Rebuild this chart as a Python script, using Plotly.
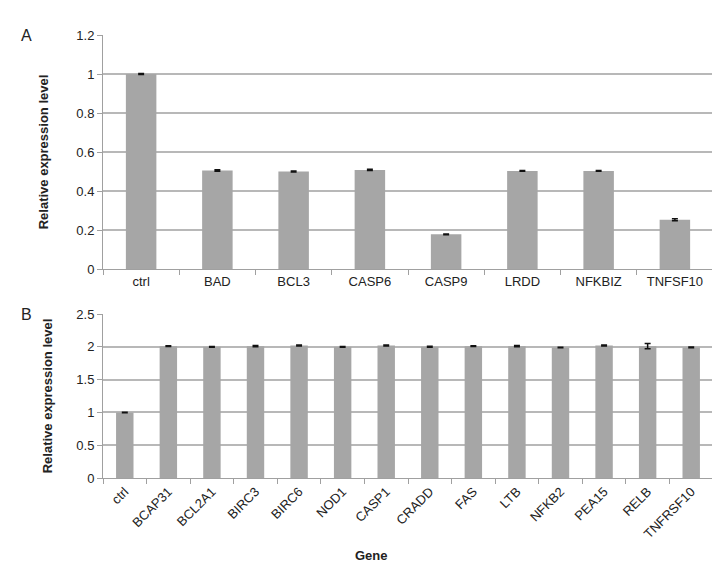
import plotly.graph_objects as go
from plotly.subplots import make_subplots

genes_a = ["ctrl", "BAD", "BCL3", "CASP6", "CASP9", "LRDD", "NFKBIZ", "TNFSF10"]
values_a = [1.0, 0.505, 0.5, 0.508, 0.178, 0.503, 0.503, 0.253]
errors_a = [0.002, 0.004, 0.003, 0.003, 0.002, 0.002, 0.002, 0.005]

genes_b = ["ctrl", "BCAP31", "BCL2A1", "BIRC3", "BIRC6", "NOD1", "CASP1", "CRADD",
           "FAS", "LTB", "NFKB2", "PEA15", "RELB", "TNFRSF10"]
values_b = [1.0, 2.01, 2.0, 2.01, 2.02, 2.0, 2.02, 2.0, 2.01, 2.01, 1.99, 2.02, 2.01, 1.99]
errors_b = [0.004, 0.005, 0.005, 0.008, 0.008, 0.005, 0.006, 0.008, 0.006, 0.008, 0.005, 0.008, 0.04, 0.006]

yticks_a = [0, 0.2, 0.4, 0.6, 0.8, 1, 1.2]
yticks_b = [0, 0.5, 1, 1.5, 2, 2.5]

bar_color = "#a6a6a6"
grid_color = "#b8b8b8"
font_fam = "Liberation Sans, Arial, sans-serif"

fig = make_subplots(rows=2, cols=1)

fig.add_trace(go.Bar(x=genes_a, y=values_a, width=0.4, marker=dict(color=bar_color, line=dict(width=0)),
                     error_y=dict(type="data", array=errors_a, color="#111", thickness=1.5, width=3)),
              row=1, col=1)
fig.add_trace(go.Bar(x=genes_b, y=values_b, width=0.4, marker=dict(color=bar_color, line=dict(width=0)),
                     error_y=dict(type="data", array=errors_b, color="#111", thickness=1.5, width=3)),
              row=2, col=1)

H_TOP = 27
H_BOT = 470
span = H_BOT - H_TOP

def dom(top_px, bot_px):
    return [(H_BOT - bot_px) / span, (H_BOT - top_px) / span]

axis_common = dict(showline=True, linecolor="#a0a0a0", linewidth=1, ticks="outside",
                   tickcolor="#a0a0a0", ticklen=5, automargin=False,
                   tickfont=dict(family=font_fam, size=13, color="#222"))

fig.update_layout(
    width=720, height=563,
    margin=dict(l=95, r=15, t=H_TOP, b=563 - H_BOT),
    plot_bgcolor="white", paper_bgcolor="white",
    showlegend=False,
    font=dict(family=font_fam, color="#222"),
)

title_font = dict(size=13, family=font_fam, color="#222")

fig.update_yaxes(row=1, col=1, domain=dom(27, 261), range=[0, 1.2], tickvals=yticks_a,
                 ticktext=[("%g" % v) for v in yticks_a],
                 showgrid=True, gridcolor=grid_color, gridwidth=1.5, zeroline=False,
                 title=dict(text="<b>Relative expression level</b>", font=title_font, standoff=24),
                 **axis_common)
fig.update_yaxes(row=2, col=1, domain=dom(306, 470), range=[0, 2.5], tickvals=yticks_b,
                 ticktext=[("%g" % v) for v in yticks_b],
                 showgrid=True, gridcolor=grid_color, gridwidth=1.5, zeroline=False,
                 title=dict(text="<b>Relative expression level</b>", font=title_font, standoff=20),
                 **axis_common)

fig.update_xaxes(row=1, col=1, tickson="boundaries", showgrid=False, **axis_common)
fig.update_xaxes(row=2, col=1, tickson="boundaries", showgrid=False, tickangle=-45,
                 **axis_common)

fig.add_annotation(text="<b>Gene</b>", xref="paper", yref="paper", x=0.44, y=-0.174,
                   xanchor="center", yanchor="middle", showarrow=False, font=title_font)

fig.add_annotation(text="A", xref="paper", yref="paper", x=-0.125, y=1.0, xanchor="center", yanchor="middle",
                   showarrow=False, font=dict(size=16, family=font_fam, color="#222"))
fig.add_annotation(text="B", xref="paper", yref="paper", x=-0.125, y=dom(306, 470)[1], xanchor="center", yanchor="middle",
                   showarrow=False, font=dict(size=16, family=font_fam, color="#222"))

fig.write_html("out.html")
